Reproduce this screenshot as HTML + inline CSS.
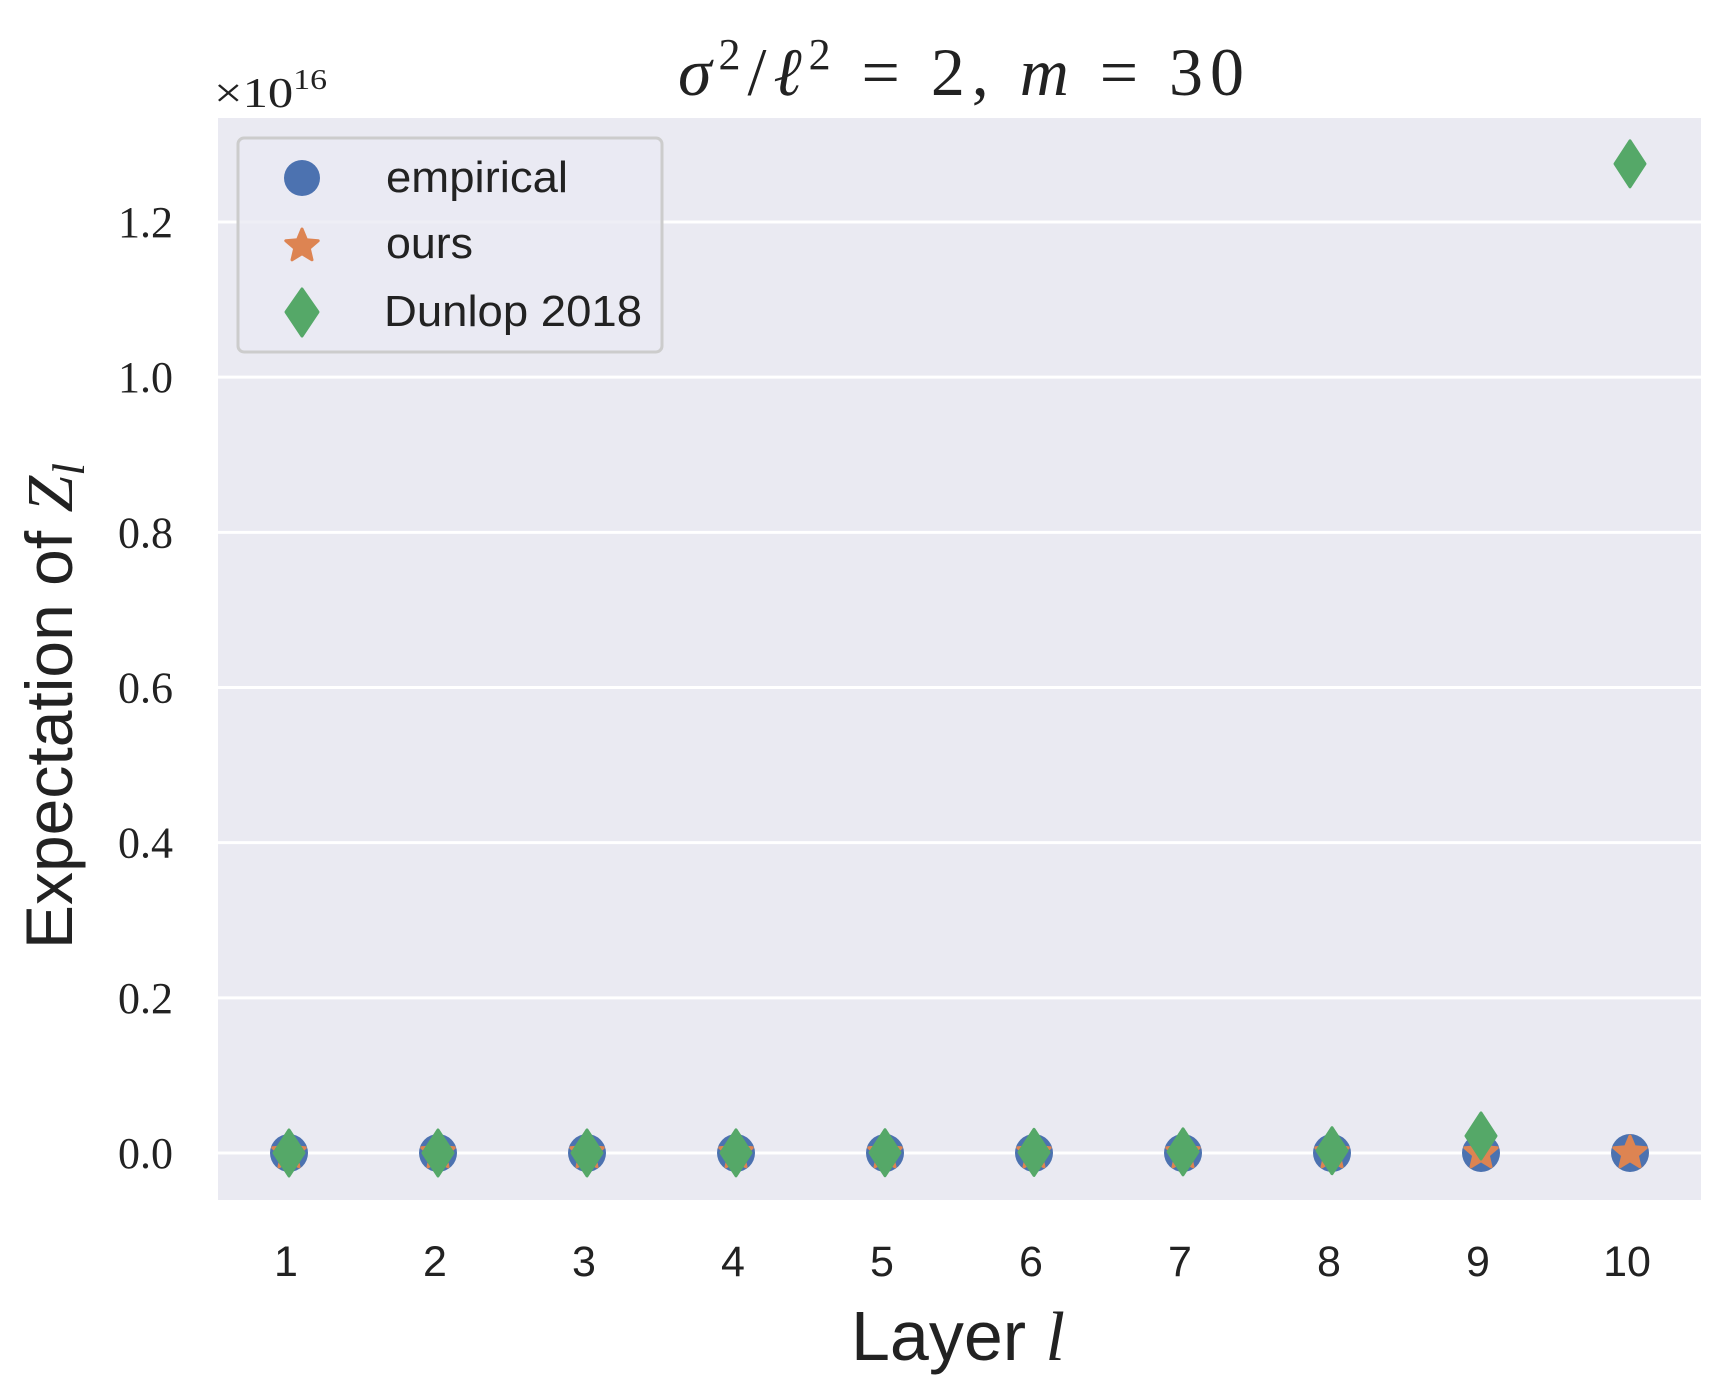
<!DOCTYPE html>
<html><head><meta charset="utf-8"><style>
html,body{margin:0;padding:0;background:#fff;}
svg{display:block;}
</style></head><body>
<svg id="chart" width="1733" height="1400" viewBox="0 0 1733 1400" xmlns="http://www.w3.org/2000/svg">
<rect x="0" y="0" width="1733" height="1400" fill="#fff"/>
<rect x="218" y="118" width="1483" height="1082" fill="#EAEAF2"/>
<g id="grid"></g>
<g id="yticks"></g>
<g id="xticks"></g>
<g id="marks"></g>
<text x="214" y="107" font-family="'Liberation Serif',serif" font-size="42" fill="#222" textLength="113" lengthAdjust="spacingAndGlyphs">×10<tspan dy="-18" font-size="28">16</tspan></text>
<text x="961" y="95" text-anchor="middle" font-family="'Liberation Serif',serif" font-size="68" fill="#222" textLength="566" lengthAdjust="spacing"><tspan font-style="italic">σ</tspan><tspan dy="-26" font-size="44">2</tspan><tspan dy="26">/</tspan><tspan font-style="italic">ℓ</tspan><tspan dy="-26" font-size="44">2</tspan><tspan dy="26"> = 2, </tspan><tspan font-style="italic">m</tspan> = 30</text>
<text transform="translate(72,706) rotate(-90)" text-anchor="middle" font-family="'Liberation Sans',sans-serif" font-size="66" fill="#222">Expectation of <tspan font-family="'Liberation Serif',serif" font-style="italic">Z</tspan><tspan font-family="'Liberation Serif',serif" font-style="italic" font-size="46" dy="12">l</tspan></text>
<text x="958" y="1360" text-anchor="middle" font-family="'Liberation Sans',sans-serif" font-size="70" fill="#222">Layer <tspan font-family="'Liberation Serif',serif" font-style="italic">l</tspan></text>
<g>
<rect x="238" y="138" width="424" height="214" rx="6" fill="#EAEAF2" fill-opacity="0.8" stroke="#CCCCCC" stroke-width="3"/>
<g>
<circle cx="302" cy="178" r="18" fill="#4C72B0"/>
<text x="386" y="192" font-family="'Liberation Sans',sans-serif" font-size="44" textLength="182" lengthAdjust="spacingAndGlyphs" fill="#222">empirical</text>
</g>
<g>
<path id="legstar" fill="#DD8452" stroke="#DD8452" stroke-width="3" stroke-linejoin="round"/>
<text x="386" y="258" font-family="'Liberation Sans',sans-serif" font-size="44" textLength="87" lengthAdjust="spacingAndGlyphs" fill="#222">ours</text>
</g>
<g>
<path d="M302,289 L318,312 L302,336 L286,312 Z" fill="#55A868" stroke="#55A868" stroke-width="3" stroke-linejoin="round"/>
<text x="384" y="326" font-family="'Liberation Sans',sans-serif" font-size="44" textLength="258" lengthAdjust="spacingAndGlyphs" fill="#222">Dunlop 2018</text>
</g>
</g>
</svg>
<script>
const layers = [1,2,3,4,5,6,7,8,9,10];
const empirical = [0,0,0,0,0,0,0,0,0,0];
const ours = [0,0,0,0,0,0,0,0,0,0];
const dunlop = [0.00002,0.00005,0.0001,0.0002,0.0004,0.0008,0.0015,0.003,0.022,1.275];
const yTicks = [0.0,0.2,0.4,0.6,0.8,1.0,1.2];
const yTickLabels = ["0.0","0.2","0.4","0.6","0.8","1.0","1.2"];

const NS = "http://www.w3.org/2000/svg";
function xs(v){ return 289 + (v-1)*149; }
function ys(v){ return 1153 - v*(931/1.2); }
function mk(tag, attrs, parent){
  const e = document.createElementNS(NS, tag);
  for (const k in attrs) e.setAttribute(k, attrs[k]);
  parent.appendChild(e);
  return e;
}
function starPath(cx, cy, R){
  const r = R*0.45; let d = "";
  for (let i=0;i<10;i++){
    const a = -Math.PI/2 + i*Math.PI/5;
    const rr = i%2===0 ? R : r;
    d += (i===0?"M":"L") + (cx+rr*Math.cos(a)).toFixed(1) + "," + (cy+rr*Math.sin(a)).toFixed(1);
  }
  return d + "Z";
}
function diamondPath(cx, cy){
  return "M"+cx+","+(cy-23)+" L"+(cx+15)+","+cy+" L"+cx+","+(cy+23)+" L"+(cx-15)+","+cy+" Z";
}
document.getElementById('legstar').setAttribute('d', starPath(302,246,17));

const grid = document.getElementById('grid');
const yt = document.getElementById('yticks');
yTicks.forEach((t,i)=>{
  const l = mk('line',{x1:218,x2:1701,y1:ys(t),y2:ys(t),stroke:'#fff','stroke-width':3},grid);
  
  
  const tx = mk('text',{x:173,y:ys(t)+15,'text-anchor':'end','font-family':"'Liberation Serif',serif",'font-size':44,fill:'#222'},yt);
  tx.textContent = yTickLabels[i];
  
  
});
const xt = document.getElementById('xticks');
layers.forEach(v=>{
  const tx = mk('text',{x:xs(v)-3,y:1276,'text-anchor':'middle','font-family':"'Liberation Sans',sans-serif",'font-size':43,fill:'#222'},xt);
  tx.textContent = String(v);
  
  
});
const marks = document.getElementById('marks');
layers.forEach((v,i)=>{
  const c = mk('circle',{cx:xs(v),cy:ys(empirical[i]),r:19,fill:'#4C72B0'},marks);
  
  
});
layers.forEach((v,i)=>{
  const s = mk('path',{d:starPath(xs(v),ys(ours[i]),17),fill:'#DD8452',stroke:'#DD8452','stroke-width':3,'stroke-linejoin':'round'},marks);
  
  
});
layers.forEach((v,i)=>{
  const d = mk('path',{d:diamondPath(xs(v),ys(dunlop[i])),fill:'#55A868',stroke:'#55A868','stroke-width':3,'stroke-linejoin':'round'},marks);
  
  
});
</script>
</body></html>
